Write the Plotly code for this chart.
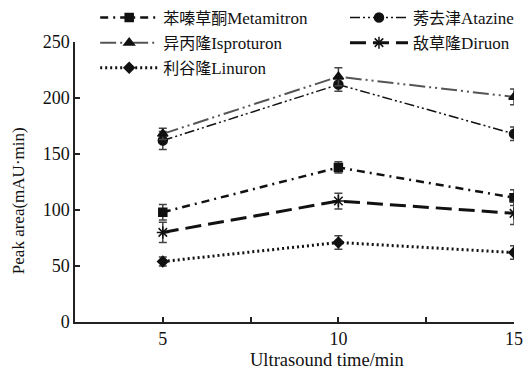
import plotly.graph_objects as go

x_time = [5, 10, 15]
names_cn = ["苯嗪草酮", "莠去津", "异丙隆", "敌草隆", "利谷隆"]
names_en = ["Metamitron", "Atazine", "Isproturon", "Diruon", "Linuron"]
metamitron = [98, 138, 111]
metamitron_err = [7, 5, 7]
atazine = [162, 212, 168]
atazine_err = [8, 6, 6]
isproturon = [168, 219, 201]
isproturon_err = [5, 8, 7]
diruon = [80, 108, 97]
diruon_err = [9, 7, 10]
linuron = [54, 71, 62]
linuron_err = [4, 6, 6]

x_tickvals = [5, 7.5, 10, 12.5, 15]
x_ticktext = ["5", "", "10", "", "15"]
y_tickvals = [0, 50, 100, 150, 200, 250]
x_title = "Ultrasound time/min"
y_title = "Peak area(mAU·min)"

names = [f'<span style="font-size:16px">{c}</span>{e}' for c, e in zip(names_cn, names_en)]

series = [
    (names[0], metamitron, metamitron_err, "square", 8, "#111111", 2.5, "8px,5px,2px,5px", "legend"),
    (names[1], atazine, atazine_err, "circle", 9, "#111111", 1.5, "10px,3px,2px,3px,2px,3px", "legend2"),
    (names[2], isproturon, isproturon_err, "triangle-up", 9, "#555555", 2, "16px,4px,2px,4px,2px,4px", "legend"),
    (names[3], diruon, diruon_err, "asterisk-open", 10, "#111111", 3, "16px,7px", "legend2"),
    (names[4], linuron, linuron_err, "diamond", 8, "#111111", 3, "2px,3px", "legend"),
]

font_family = "Liberation Serif, Times New Roman, Noto Sans CJK SC, serif"

fig = go.Figure()
for name, ys, errs, sym, size, col, w, dash, lg in series:
    fig.add_trace(go.Scatter(
        x=x_time, y=ys, name=name, mode="lines+markers", legend=lg,
        line=dict(color=col, width=w, dash=dash),
        marker=dict(symbol=sym, size=size, color="#111111",
                    line=dict(color="#111111", width=1.5)),
        error_y=dict(type="data", array=errs, visible=True, color="#444444",
                     thickness=1.5, width=4),
    ))

legend_common = dict(xanchor="left", yanchor="top", yref="container", itemwidth=58,
                     bgcolor="rgba(0,0,0,0)", font=dict(size=17, family=font_family),
                     tracegroupgap=0, traceorder="normal")

fig.update_layout(
    width=528, height=374,
    margin=dict(l=75, r=14, t=42, b=52, autoexpand=False),
    paper_bgcolor="white", plot_bgcolor="white",
    font=dict(family=font_family, size=18, color="#111111"),
    showlegend=True,
    legend=dict(x=0.046, y=1.0, **legend_common),
    legend2=dict(x=0.615, y=1.0, **legend_common),
    xaxis=dict(range=[2.5, 15], tickvals=x_tickvals, ticktext=x_ticktext,
               showgrid=False, zeroline=False, showline=True, linecolor="#222222",
               linewidth=1.5, ticks="inside", ticklen=5, tickcolor="#222222",
               tickwidth=1.5, tickfont=dict(size=18)),
    yaxis=dict(range=[0, 250], tickvals=y_tickvals, showgrid=False, zeroline=False,
               showline=True, linecolor="#222222", linewidth=1.5, ticks="inside",
               ticklen=5, tickcolor="#222222", tickwidth=1.5, tickfont=dict(size=18)),
    annotations=[
        dict(text=x_title, xref="paper", yref="paper", x=0.574, y=-0.135,
             xanchor="center", yanchor="middle", showarrow=False,
             font=dict(size=18.5, family=font_family)),
        dict(text=y_title, xref="paper", yref="paper", x=-0.13, y=0.435,
             xanchor="center", yanchor="middle", showarrow=False, textangle=-90,
             font=dict(size=17, family=font_family)),
    ],
)

fig.write_html("out.html")
